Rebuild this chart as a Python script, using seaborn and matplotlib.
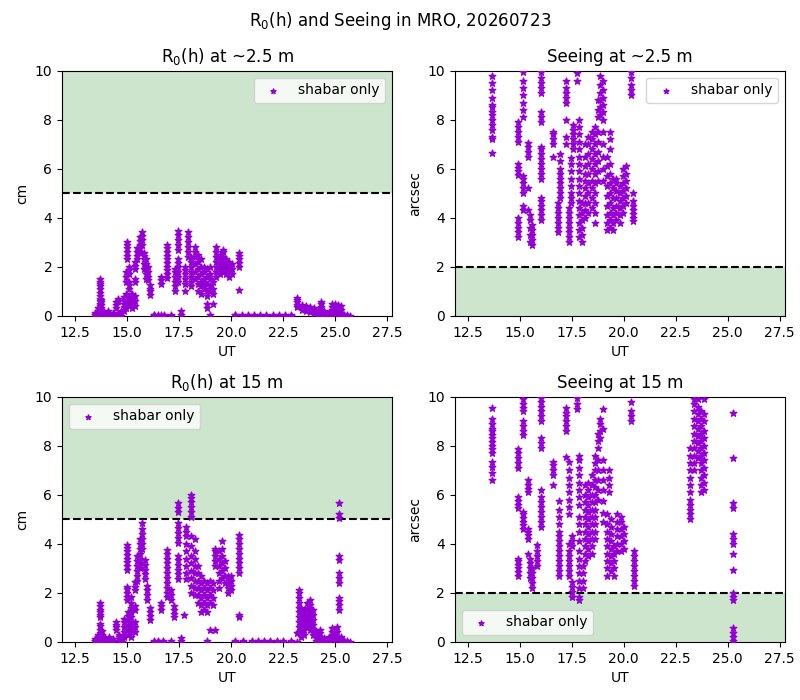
import pandas as pd
import matplotlib
matplotlib.use('Agg')
import matplotlib.pyplot as plt
import seaborn as sns

# r0 at ~2.5 m (cm): one time per vertical streak, values in that streak
r0_low_t = [13.45, 13.6, 13.68, 13.75, 13.9, 14.1, 14.3, 14.45, 14.55, 14.7,
            14.85, 14.95, 15.0, 15.1, 15.25, 15.38, 15.5, 15.6, 15.7, 15.8,
            15.9, 16.0, 16.1, 16.3, 16.5, 16.62, 16.8, 16.9, 17.1, 17.3,
            17.45, 17.6, 17.8, 17.95, 18.1, 18.25, 18.4, 18.55, 18.7, 18.85,
            19.0, 19.15, 19.3, 19.45, 19.6, 19.75, 19.9, 20.05, 20.2, 20.4,
            20.55, 20.8, 21.1, 21.4, 21.7, 22.0, 22.3, 22.6, 22.9, 23.2,
            23.4, 23.6, 23.8, 24.0, 24.2, 24.35, 24.5, 24.7, 24.85, 25.0,
            25.15, 25.3, 25.45, 25.6, 25.75]
r0_low_v = [[0.02, 0.05, 0.1], [0.0, 0.05, 0.12, 0.2, 0.3],
            [0.4, 0.5, 0.6, 0.7, 0.8, 0.95, 1.1, 1.2, 1.3, 1.4, 1.5],
            [0.05, 0.15, 0.3, 0.45, 0.55, 0.65], [0.0, 0.05, 0.1, 0.15],
            [0.0, 0.05, 0.1, 0.2], [0.0, 0.05, 0.12], [0.3, 0.45, 0.55],
            [0.6, 0.7, 0.05, 0.1], [0.0, 0.1, 0.2],
            [0.2, 0.35, 0.5, 0.6, 0.75], [0.3, 0.5, 0.7, 0.9, 1.4, 1.6, 1.8],
            [2.3, 2.45, 2.6, 2.75, 2.9, 3.0],
            [0.4, 0.6, 0.8, 1.1, 1.25, 1.4, 1.7, 1.85, 2.0],
            [0.3, 0.5, 0.7, 0.9], [0.4, 0.6, 0.8, 1.4, 1.5, 1.9, 2.05, 2.2],
            [2.3, 2.45, 2.6, 2.75], [2.6, 2.75, 2.9, 3.05, 3.2],
            [2.9, 3.1, 3.25, 3.4], [1.9, 2.1, 2.3, 2.45, 2.55],
            [1.5, 1.7, 1.9, 2.1, 2.3], [1.45, 1.6, 1.8, 2.0],
            [0.85, 1.0, 1.1, 1.25], [0.0, 0.02, 0.05], [0.0, 0.03],
            [1.3, 1.45, 1.6, 0.02], [0.0, 0.05],
            [1.55, 1.7, 1.85, 2.0, 2.15, 2.3, 2.45, 2.6, 2.75, 2.9],
            [0.0, 0.03], [1.0, 1.2, 1.4, 1.6, 1.8, 1.9],
            [1.4, 1.6, 1.8, 2.0, 2.15, 2.3, 2.7, 2.9, 3.1, 3.3, 3.45],
            [0.05, 0.2], [1.0, 1.3, 1.5, 1.7, 1.85, 2.0],
            [2.4, 2.6, 2.8, 3.0, 3.2, 3.4], [1.2, 1.4, 1.6, 1.8, 2.0, 2.2, 2.4],
            [1.5, 1.8, 2.1, 2.4, 2.6, 2.8], [1.0, 1.3, 1.6, 1.9, 2.2, 2.5],
            [0.9, 1.2, 1.4, 1.7, 2.0, 2.3], [1.1, 1.3, 1.5, 1.8, 2.0],
            [0.3, 0.5, 0.8, 1.0, 1.3, 1.6, 1.9], [1.0, 1.2, 1.5, 1.7, 2.0, 0.03],
            [0.5, 0.9, 1.1, 1.4], [1.6, 1.8, 2.0, 2.2, 2.4, 2.6, 2.8],
            [1.7, 1.9, 2.1, 2.3, 2.5], [1.8, 2.0, 2.2, 2.4, 2.6, 2.7],
            [1.7, 1.9, 2.1, 2.3], [1.6, 1.8, 2.0, 2.2], [1.7, 1.9, 2.1],
            [0.02, 0.05], [1.05, 2.0, 2.15, 2.3, 2.45, 2.55],
            [0.0, 0.02], [0.0, 0.02], [0.0, 0.02], [0.0, 0.02], [0.0, 0.02],
            [0.0, 0.02], [0.0, 0.02], [0.0, 0.02], [0.0, 0.02],
            [0.35, 0.45, 0.55, 0.65, 0.72], [0.25, 0.35, 0.45], [0.2, 0.3, 0.4],
            [0.15, 0.25, 0.35], [0.1, 0.2, 0.3], [0.05, 0.15, 0.25],
            [0.05, 0.2, 0.35, 0.5, 0.58], [0.02, 0.1, 0.2], [0.0, 0.05, 0.15],
            [0.05, 0.2, 0.35, 0.5], [0.1, 0.25, 0.4, 0.5], [0.05, 0.2, 0.35, 0.45],
            [0.0, 0.1, 0.25, 0.4], [0.0, 0.05], [0.0, 0.02], [0.0]]

# seeing at ~2.5 m (arcsec)
see_low_t = [13.64, 14.9, 15.13, 15.4, 15.5, 15.6, 16.0, 16.04, 16.6, 16.85,
             16.95, 17.2, 17.35, 17.45, 17.55, 17.75, 17.85, 18.0, 18.15, 18.3,
             18.45, 18.6, 18.75, 18.85, 19.0, 19.2, 19.35, 19.5, 19.65, 19.8,
             19.95, 20.1, 20.37, 20.45]
see_low_v = [[6.65, 7.2, 7.3, 7.6, 7.8, 8.0, 8.2, 8.3, 8.5, 8.6, 8.9, 9.2, 9.5, 9.8],
             [7.1, 7.3, 7.5, 7.7, 7.9, 5.75, 5.9, 6.05, 6.2, 3.2, 3.4, 3.6, 3.8, 4.0],
             [8.1, 8.4, 8.7, 9.0, 9.3, 9.6, 9.95, 5.0, 5.2, 5.4, 5.6, 5.7, 4.5, 4.3],
             [6.5, 6.7, 6.9, 7.05, 5.2, 4.3], [3.0, 3.3, 3.6, 3.9, 4.1],
             [2.9, 3.1, 3.3, 3.5, 3.7], [3.9, 4.1, 4.3, 4.5, 4.7, 4.8],
             [5.6, 5.8, 6.0, 6.2, 6.4, 6.6, 6.8, 6.9, 7.9, 8.1, 8.3, 9.1, 9.3,
              9.5, 9.7, 9.95],
             [6.5, 7.0, 7.2, 7.4, 7.5], [3.4, 3.6, 3.8, 4.0, 4.2, 4.4, 4.6],
             [4.8, 5.0, 5.2, 5.4, 5.6, 5.8, 6.0, 6.3, 6.6],
             [8.7, 8.9, 9.1, 9.3, 9.6, 8.0, 7.3, 7.0],
             [3.0, 3.2, 3.4, 3.6, 3.8, 4.0, 4.2, 4.4],
             [4.6, 4.8, 5.0, 5.3, 5.6, 5.9, 6.2, 6.45],
             [6.8, 7.0, 7.2, 7.4, 7.6, 7.8], [9.6, 9.9],
             [3.2, 3.5, 3.8, 4.1, 4.4, 4.7, 5.0, 5.3, 5.6, 5.9, 6.2, 6.5, 6.8,
              7.1, 7.4, 7.7, 8.0],
             [3.0, 3.3, 3.6, 3.9, 4.2, 4.6],
             [4.0, 4.3, 4.6, 4.9, 5.2, 5.5, 5.8, 6.1, 6.5, 7.0],
             [4.2, 4.6, 5.0, 5.4, 5.8, 6.2, 6.6, 7.0, 7.3],
             [4.4, 4.8, 5.2, 5.5, 6.0, 6.4, 6.8, 7.2, 7.5],
             [3.8, 4.2, 4.6, 5.0, 5.4, 5.8, 6.2, 6.6, 7.0, 7.4, 7.7],
             [5.5, 5.9, 6.3, 6.7, 7.1, 7.5, 8.1, 8.4, 8.8],
             [8.2, 8.5, 8.8, 9.1, 9.4, 9.8],
             [5.5, 6.0, 6.5, 7.0, 7.5, 8.0, 8.3, 8.6, 8.9, 9.2, 9.6],
             [3.5, 3.8, 4.1, 4.5, 4.9, 5.3, 5.7, 6.1, 6.5],
             [3.6, 3.9, 4.2, 4.6, 5.0, 5.4, 5.8, 6.2, 6.8, 7.2, 7.5],
             [3.5, 3.8, 4.1, 4.4, 4.8, 5.2, 5.6],
             [3.9, 4.2, 4.5, 4.8, 5.1, 5.4, 5.6],
             [3.8, 4.1, 4.4, 4.7, 5.0, 5.3],
             [4.2, 4.5, 4.8, 5.1, 5.4, 5.7, 6.0],
             [4.6, 4.9, 5.2, 5.5, 5.8, 6.1],
             [9.0, 9.2, 9.4, 9.7, 9.95],
             [3.85, 4.0, 4.15, 4.3, 4.5, 4.7, 5.0]]

# r0 at 15 m (cm)
r0_high_t = [13.45, 13.6, 13.68, 13.8, 13.95, 14.15, 14.3, 14.45, 14.6, 14.75,
             14.85, 14.98, 15.05, 15.2, 15.38, 15.5, 15.6, 15.7, 15.85, 15.95,
             16.1, 16.3, 16.5, 16.62, 16.75, 16.9, 17.1, 17.25, 17.45, 17.6,
             17.75, 17.85, 18.08, 18.1, 18.25, 18.4, 18.55, 18.7, 18.85, 19.0,
             19.15, 19.25, 19.4, 19.55, 19.7, 19.85, 20.0, 20.2, 20.4, 20.6,
             21.0, 21.3, 21.6, 21.9, 22.2, 22.5, 22.9, 23.2, 23.25, 23.35,
             23.5, 23.65, 23.8, 23.95, 24.1, 24.3, 24.5, 24.7, 24.85, 25.0,
             25.1, 25.22, 25.3, 25.45, 25.6, 25.75]
r0_high_v = [[0.02, 0.05, 0.1], [0.0, 0.1, 0.2, 0.3],
             [0.2, 0.35, 0.5, 0.65, 0.75, 1.0, 1.1, 1.2, 1.3, 1.45, 1.6],
             [0.05, 0.15, 0.3, 0.45], [0.0, 0.05, 0.15], [0.0, 0.05, 0.1, 0.2],
             [0.0, 0.05, 0.1], [0.5, 0.6, 0.7, 0.8], [0.05, 0.2, 0.3],
             [0.0, 0.1, 0.2], [0.2, 0.4, 0.6, 0.8, 0.95],
             [2.95, 3.1, 3.25, 3.4, 3.55, 3.7, 3.85, 3.95, 1.7, 1.85, 2.0, 2.15, 2.25],
             [0.3, 0.5, 0.7, 0.9, 1.05, 1.2],
             [0.2, 0.4, 0.6, 0.8, 1.0, 1.2, 1.4, 1.6, 1.85],
             [0.4, 0.6, 0.8, 1.3, 1.45, 2.1, 2.25, 2.45],
             [2.5, 2.7, 2.9, 3.1, 3.3, 3.5], [3.0, 3.2, 3.4, 3.6, 3.8, 4.0, 4.2],
             [3.8, 4.0, 4.2, 4.4, 4.6, 4.85], [2.55, 2.75, 2.95, 3.15, 3.35],
             [1.7, 1.9, 2.1, 2.3], [0.9, 1.05, 1.2, 1.4], [0.0, 0.03],
             [0.0, 0.03], [1.3, 1.45, 1.6], [0.0, 0.05],
             [1.85, 2.0, 2.2, 2.4, 2.6, 2.8, 3.0, 3.2, 3.4, 3.6, 3.75],
             [1.7, 1.9, 2.1, 0.02], [1.0, 1.15, 1.3, 1.45],
             [2.55, 2.75, 2.95, 3.15, 3.35, 3.5, 4.05, 4.25, 4.45, 4.65, 4.85,
              5.3, 5.45, 5.65],
             [0.05, 0.15], [1.1], [2.55, 2.8, 3.1, 3.4, 3.7, 4.0, 4.3, 4.5, 4.7],
             [5.1, 5.3, 5.5, 5.7, 5.85, 6.0],
             [2.0, 2.3, 2.6, 2.9, 3.2, 3.5, 3.9, 4.3],
             [1.9, 2.2, 2.5, 2.8, 3.1, 3.4, 3.7, 4.2],
             [1.6, 1.9, 2.2, 2.5, 2.8, 3.1], [1.2, 1.5, 1.8, 2.1, 2.4, 2.7],
             [1.3, 1.6, 1.9, 2.2, 2.5], [1.2, 1.5, 1.8, 2.1, 2.4, 0.02],
             [0.5, 1.6, 1.9, 2.2, 2.5], [1.5, 1.8, 2.1, 2.4],
             [0.5, 3.1, 3.3, 3.5, 3.7, 3.8], [2.2, 2.5, 2.8, 3.1, 3.4, 3.7],
             [2.6, 2.9, 3.2, 3.5, 3.8, 4.1], [2.4, 2.7, 3.0, 3.3],
             [2.0, 2.2, 2.4, 2.6, 2.7], [2.1, 2.3, 2.5, 2.7], [0.0, 0.05],
             [1.0, 1.1, 2.8, 3.0, 3.2, 3.4, 3.6, 3.8, 4.0, 4.2, 4.35],
             [0.0, 0.03], [0.0, 0.02], [0.0, 0.02], [0.0, 0.02], [0.0, 0.02],
             [0.0, 0.02], [0.0, 0.02], [0.0, 0.02], [0.0, 0.35],
             [0.4, 0.6, 0.8, 1.0, 1.2, 1.4, 1.6, 1.8, 2.0, 2.1],
             [0.2, 0.4, 0.6, 0.8, 1.0, 1.2, 1.4], [0.3, 0.5, 0.7, 0.9, 1.1, 1.3],
             [0.6, 0.8, 1.0, 1.2, 1.4, 1.6], [0.5, 0.7, 0.9, 1.1, 1.3, 1.5, 1.7],
             [0.3, 0.5, 0.7, 0.9, 1.1, 1.3], [0.05, 0.15, 0.3, 0.45],
             [0.0, 0.1, 0.2, 0.35, 0.5], [0.0, 0.05, 0.15], [0.0, 0.1, 0.2],
             [0.1, 0.25, 0.4, 0.55], [0.05, 0.2, 0.35, 0.5], [0.2, 0.4, 0.6],
             [1.3, 1.5, 1.65, 1.8, 2.4, 2.6, 2.8, 3.35, 3.5, 5.05, 5.2, 5.65],
             [0.0, 0.1, 0.2], [0.0, 0.05], [0.0, 0.02], [0.0]]

# seeing at 15 m (arcsec)
see_high_t = [13.64, 14.92, 15.13, 15.4, 15.5, 15.6, 15.85, 16.04, 16.6, 16.9,
              17.2, 17.35, 17.5, 17.75, 17.85, 18.05, 18.15, 18.3, 18.45, 18.6,
              18.75, 18.85, 19.0, 19.2, 19.3, 19.4, 19.55, 19.7, 19.85, 20.0,
              20.37, 20.5, 23.2, 23.4, 23.55, 23.7, 23.85, 25.25]
see_high_v = [[6.6, 6.9, 7.15, 7.35, 7.7, 7.85, 8.0, 8.15, 8.3, 8.45, 8.6, 8.7,
               8.9, 9.1, 9.55],
              [7.1, 7.3, 7.5, 7.7, 7.85, 5.45, 5.6, 5.75, 5.9, 2.7, 2.85, 3.0,
               3.15, 3.3, 3.4],
              [9.4, 9.55, 9.7, 9.9, 8.45, 8.6, 8.8, 9.0, 4.6, 4.75, 4.9, 5.05,
               5.2, 5.3],
              [6.1, 6.25, 6.4, 6.6, 4.2, 4.35, 4.5, 4.6, 3.6],
              [2.6, 2.8, 3.0, 3.2, 3.4], [2.2, 2.4, 2.6, 2.8, 3.0],
              [3.1, 3.3, 3.5, 3.7, 3.95],
              [9.0, 9.2, 9.4, 9.6, 9.8, 9.95, 7.9, 8.1, 8.3, 4.9, 5.1, 5.3, 5.5,
               5.7, 5.9, 6.2, 4.7],
              [6.4, 6.8, 7.0, 7.2, 7.35],
              [2.7, 2.9, 3.1, 3.3, 3.5, 3.7, 3.9, 4.1, 4.3, 4.5, 4.8, 5.1, 5.4, 5.75],
              [8.6, 8.8, 9.0, 9.2, 9.35, 9.55, 7.55],
              [5.2, 5.5, 5.8, 6.1, 6.4, 6.7, 7.0, 7.35, 2.7, 2.9, 3.1, 3.3, 3.5,
               3.7, 4.0],
              [1.85, 2.05, 2.25, 2.45, 3.9, 4.1, 4.3], [9.5, 9.7, 9.95],
              [2.2, 2.5, 2.8, 3.1, 3.4, 3.7, 4.1, 4.5, 4.8, 5.1, 5.6, 5.9, 6.2,
               6.5, 6.8, 7.1, 7.4, 7.6, 1.7, 1.85],
              [2.2, 2.5, 2.8, 3.1],
              [3.3, 3.6, 3.9, 4.2, 4.5, 4.8, 5.1, 5.4, 5.7, 6.0, 6.4],
              [3.5, 3.8, 4.1, 4.4, 4.7, 5.0, 5.3, 5.6, 5.9, 6.2, 6.5],
              [3.6, 3.9, 4.2, 4.5, 4.8, 5.1, 5.4, 5.7, 6.0, 6.4, 6.8],
              [4.2, 4.5, 4.8, 5.1, 5.4, 5.7, 6.0, 6.3, 6.6, 7.0, 7.3, 7.6],
              [5.8, 6.2, 6.6, 7.0, 7.4, 7.9, 8.2, 8.5], [8.3, 8.6, 8.9, 9.1],
              [4.9, 5.25, 5.75, 6.2, 6.6, 7.0, 7.4, 8.7, 9.5],
              [2.7, 3.0, 3.3, 3.6, 3.9, 4.2, 4.5, 4.8, 5.2], [6.1, 6.4, 6.7, 7.0],
              [2.9, 3.2, 3.5, 3.8, 4.1, 4.4, 4.7, 5.0], [2.7, 3.0, 3.3, 3.6, 3.9],
              [3.7, 4.0, 4.3, 4.6, 4.9, 5.2], [3.7, 4.0, 4.3, 4.6, 4.9, 5.1],
              [3.8, 4.1, 4.4, 4.7], [9.0, 9.2, 9.4, 9.8],
              [2.3, 2.5, 2.7, 2.9, 3.1, 3.3, 3.5, 3.7],
              [5.0, 5.2, 5.4, 5.6, 5.8, 6.1, 6.4, 6.7, 7.0, 7.3, 7.6, 7.9],
              [7.0, 7.3, 7.6, 7.9, 8.2, 8.5, 8.8, 9.1, 9.4, 9.7, 9.9],
              [7.5, 7.8, 8.1, 8.4, 8.7, 9.0, 9.3, 9.6, 9.9],
              [6.1, 6.4, 6.7, 7.0, 7.3, 7.6, 7.9, 8.2, 8.5, 8.8, 9.1, 9.4],
              [6.2, 6.5, 6.8, 7.1, 7.4, 7.7, 8.0, 8.3, 8.6, 9.0, 9.3, 9.9],
              [9.33, 7.5, 5.45, 5.65, 4.0, 4.2, 4.4, 3.6, 2.95, 1.7, 1.85, 2.0,
               0.05, 0.2, 0.35, 0.55]]


def to_frame(times, values):
    rows = [(t, v) for t, vs in zip(times, values) for v in vs]
    return pd.DataFrame(rows, columns=['UT', 'val'])


panels = [
    (r0_low_t, r0_low_v, r'R$_0$(h) at ~2.5 m', 'cm', (5, 10), 5, 'upper right'),
    (see_low_t, see_low_v, 'Seeing at ~2.5 m', 'arcsec', (0, 2), 2, 'upper right'),
    (r0_high_t, r0_high_v, r'R$_0$(h) at 15 m', 'cm', (5, 10), 5, 'upper left'),
    (see_high_t, see_high_v, 'Seeing at 15 m', 'arcsec', (0, 2), 2, 'lower left'),
]

fig, axes = plt.subplots(2, 2, figsize=(8, 7), dpi=100)
fig.subplots_adjust(left=0.0775, right=0.981, top=0.899, bottom=0.083,
                    wspace=0.19, hspace=0.33)

for ax, (t, v, title, unit, band, thresh, loc) in zip(axes.flat, panels):
    df = to_frame(t, v)
    ax.axhspan(band[0], band[1], color='green', alpha=0.2, lw=0)
    ax.axhline(thresh, color='k', ls='--', lw=1.5)
    sns.scatterplot(data=df, x='UT', y='val', marker='*', s=24,
                    color='darkviolet', edgecolor='darkviolet', linewidth=1.0,
                    label='shabar only', ax=ax, zorder=3)
    ax.set_xlim(11.87, 27.75)
    ax.set_ylim(0, 10)
    ax.set_xticks([12.5, 15.0, 17.5, 20.0, 22.5, 25.0, 27.5])
    ax.set_title(title, fontsize=12)
    ax.set_xlabel('UT')
    ax.set_ylabel(unit)
    leg = ax.legend(loc=loc, fontsize=10)
    for h in leg.legend_handles:
        h.set_sizes([14])

fig.suptitle(r'R$_0$(h) and Seeing in MRO, 20260723', fontsize=12, y=0.985)
fig.savefig('out.png', dpi=100)
